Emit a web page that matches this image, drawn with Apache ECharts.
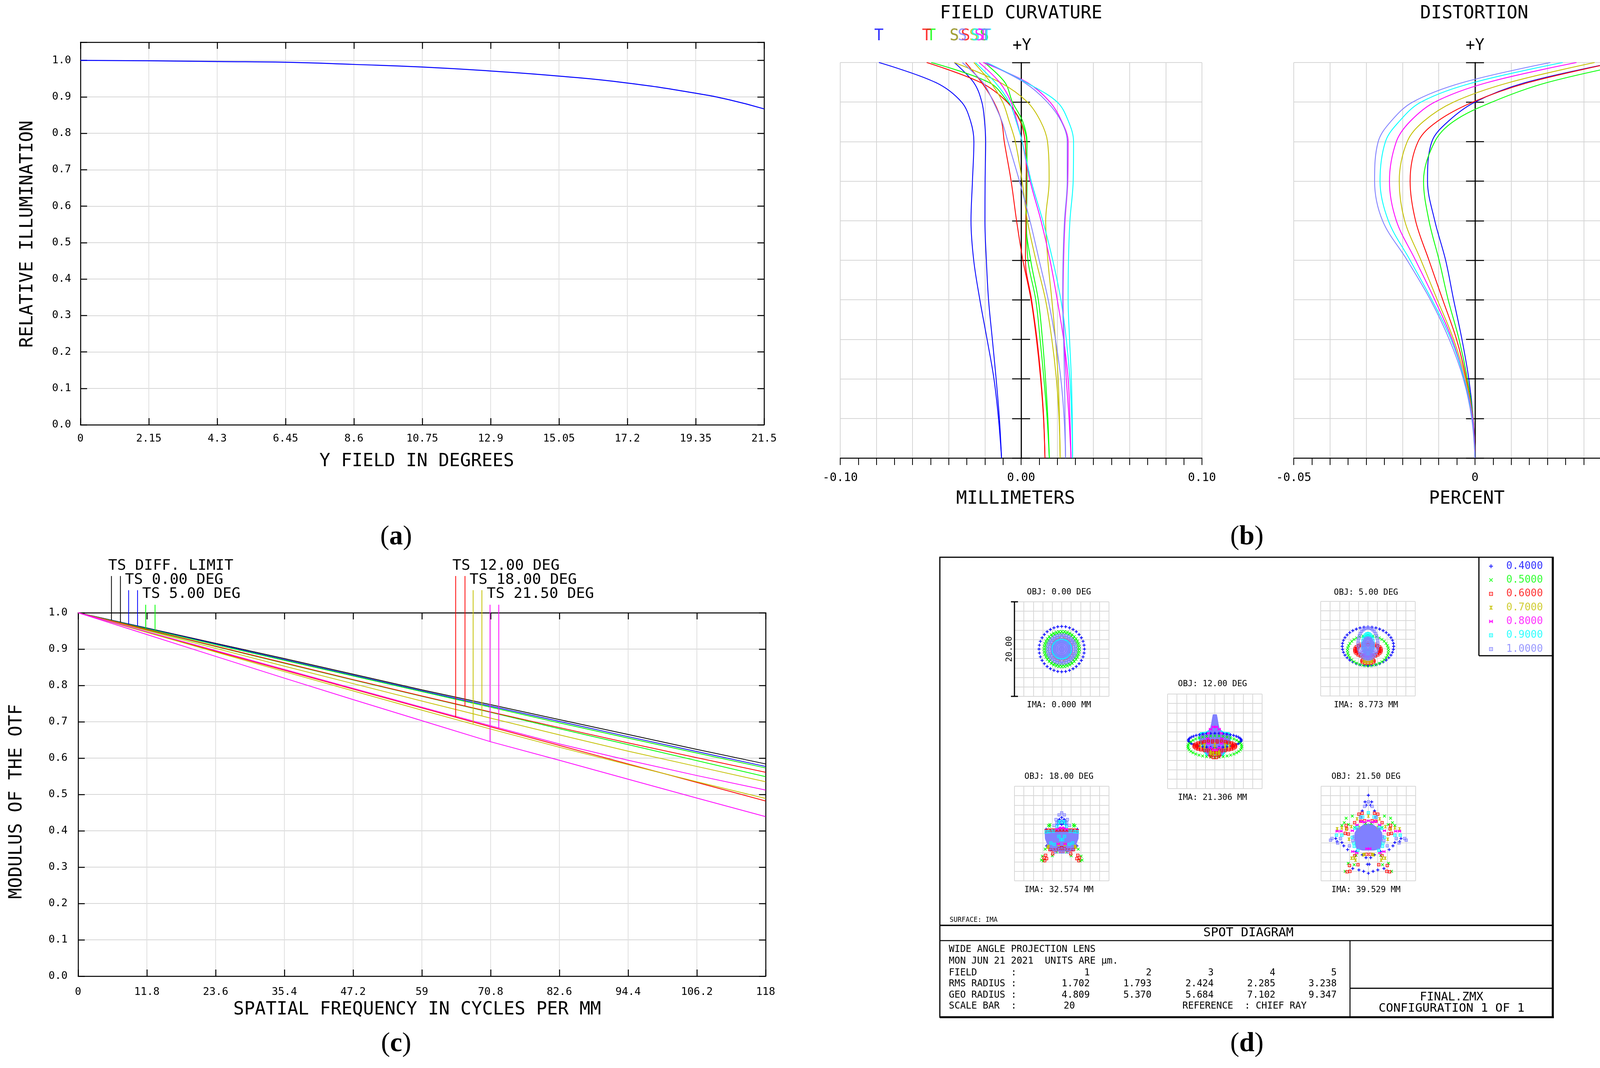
<!DOCTYPE html>
<html>
<head>
<meta charset="utf-8">
<title>Wide angle projection lens - analysis plots</title>
<script src="https://cdn.jsdelivr.net/npm/echarts@6.0.0/dist/echarts.min.js"></script>
<style>
  html, body { margin: 0; padding: 0; background: #fff; }
  #chart { width: 4288px; height: 2733px; }
</style>
</head>
<body>
<div id="chart"></div>
<script>
var FONT = "'DejaVu Sans Mono', monospace";
var SERIF = "'Liberation Serif', 'DejaVu Serif', serif";
var GRID_V = '#e0e0e0';
var GRID_H = '#d6d6d6';

// wavelengths (um) and their colours, used by (b) and (d)
var wlNames = ['0.4000', '0.5000', '0.6000', '0.7000', '0.8000', '0.9000', '1.0000'];
var wlColor = ['#0000ff', '#00ff00', '#ff0000', '#c4c000', '#ff00ff', '#00ffff', '#8080ff'];

//---------------- (a) relative illumination ----------------
var riField = [0, 2.15, 4.3, 6.45, 8.6, 10.75, 12.9, 15.05, 17.2, 19.35, 20.4, 21.5];
var riValue = [1.000, 0.999, 0.997, 0.995, 0.989, 0.982, 0.971, 0.957, 0.938, 0.910, 0.892, 0.867];
var riXTicks = ['0', '2.15', '4.3', '6.45', '8.6', '10.75', '12.9', '15.05', '17.2', '19.35', '21.5'];
var riYTicks = ['0.0', '0.1', '0.2', '0.3', '0.4', '0.5', '0.6', '0.7', '0.8', '0.9', '1.0'];

//---------------- (b) field curvature, mm ----------------
var fcField  = [0, 2.15, 4.3, 6.45, 8.6, 10.75, 12.9, 15.05, 17.2, 18.3, 19.35, 20.4, 21.5];
var fcBlueT  = [-0.0108, -0.0125, -0.0150, -0.0188, -0.0228, -0.0262, -0.0277, -0.0269, -0.0261, -0.0279, -0.0329, -0.0469, -0.0786];
var fcBlueS  = [-0.0108, -0.0120, -0.0138, -0.0159, -0.0180, -0.0192, -0.0200, -0.0199, -0.0196, -0.0202, -0.0217, -0.0261, -0.0369];
var fcGreenT = [0.0156, 0.0144, 0.0126, 0.0105, 0.0081, 0.0038, 0.0030, 0.0033, 0.0031, -0.0001, -0.0073, -0.0174, -0.0497];
var fcGreenS = [0.0156, 0.0148, 0.0135, 0.0118, 0.0095, 0.0053, 0.0026, 0.0027, 0.0033, 0.0009, -0.0048, -0.0088, -0.0203];
var fcRedT   = [0.0132, 0.0125, 0.0110, 0.0088, 0.0058, 0.0024, 0.0027, 0.0029, 0.0022, -0.0005, -0.0077, -0.0221, -0.0522];
var fcRedS   = [0.0132, 0.0124, 0.0108, 0.0085, 0.0055, 0.0010, -0.0025, -0.0055, -0.0093, -0.0108, -0.0150, -0.0217, -0.0307];
var fcYelA   = [0.0216, 0.0212, 0.0205, 0.0190, 0.0170, 0.0148, 0.0136, 0.0155, 0.0146, 0.0108, 0.0035, -0.0113, -0.0369];
var fcYelB   = [0.0216, 0.0210, 0.0195, 0.0170, 0.0135, 0.0082, 0.0035, 0.0006, -0.0032, -0.0066, -0.0102, -0.0167, -0.0261];
var fcMagA   = [0.0276, 0.0270, 0.0260, 0.0235, 0.0200, 0.0160, 0.0110, 0.0050, 0.0006, -0.0023, -0.0055, -0.0117, -0.0232];
var fcMagB   = [0.0276, 0.0265, 0.0250, 0.0238, 0.0232, 0.0235, 0.0243, 0.0258, 0.0260, 0.0225, 0.0160, 0.0036, -0.0210];
var fcCyanA  = [0.0285, 0.0280, 0.0270, 0.0250, 0.0220, 0.0175, 0.0120, 0.0056, 0.0006, -0.0027, -0.0066, -0.0142, -0.0253];
var fcCyanB  = [0.0285, 0.0283, 0.0278, 0.0268, 0.0260, 0.0262, 0.0270, 0.0288, 0.0290, 0.0262, 0.0200, 0.0030, -0.0190];
var fcLbA    = [0.0246, 0.0238, 0.0220, 0.0190, 0.0150, 0.0100, 0.0049, -0.0009, -0.0073, -0.0106, -0.0153, -0.0210, -0.0325];
var fcLbB    = [0.0246, 0.0243, 0.0240, 0.0235, 0.0230, 0.0232, 0.0240, 0.0255, 0.0255, 0.0222, 0.0145, 0.0020, -0.0196];
var fcXTickVals = [-0.1, 0, 0.1];
var fcXTickText = ['-0.10', '0.00', '0.10'];

//---------------- (b) distortion, percent ----------------
var dtBlue    = [0, -0.0005, -0.0017, -0.0036, -0.0059, -0.0081, -0.0111, -0.0131, -0.0119, -0.0074, 0.0000, 0.0137, 0.0386];
var dtGreen   = [0, -0.0005, -0.0021, -0.0044, -0.0074, -0.0099, -0.0127, -0.0142, -0.0111, -0.0059, 0.0047, 0.0197, 0.0443];
var dtRed     = [0, -0.0006, -0.0024, -0.0051, -0.0089, -0.0127, -0.0164, -0.0179, -0.0157, -0.0104, -0.0006, 0.0145, 0.0386];
var dtYellow  = [0, -0.0006, -0.0026, -0.0059, -0.0104, -0.0149, -0.0194, -0.0209, -0.0187, -0.0142, -0.0059, 0.0092, 0.0330];
var dtMagenta = [0, -0.0006, -0.0029, -0.0063, -0.0111, -0.0164, -0.0217, -0.0236, -0.0217, -0.0179, -0.0111, 0.0032, 0.0280];
var dtCyan    = [0, -0.0008, -0.0030, -0.0066, -0.0119, -0.0179, -0.0239, -0.0262, -0.0247, -0.0209, -0.0149, -0.0006, 0.0242];
var dtLb      = [0, -0.0009, -0.0032, -0.0071, -0.0123, -0.0187, -0.0255, -0.0277, -0.0267, -0.0232, -0.0172, -0.0036, 0.0208];
var dtXTickVals = [-0.05, 0, 0.05];
var dtXTickText = ['-0.05', '0', '0.05'];

//---------------- (c) MTF ----------------
var mtfFreq   = [0, 11.8, 23.6, 35.4, 47.2, 59, 70.8, 82.6, 94.4, 106.2, 118];
var mtfDiff   = [1, 0.958, 0.916, 0.874, 0.831, 0.788, 0.747, 0.706, 0.665, 0.624, 0.584];
var mtf0      = [1, 0.957, 0.914, 0.871, 0.828, 0.785, 0.743, 0.701, 0.659, 0.618, 0.577];
var mtf5T     = [1, 0.956, 0.912, 0.869, 0.826, 0.783, 0.740, 0.697, 0.655, 0.614, 0.573];
var mtf5S     = [1, 0.953, 0.907, 0.861, 0.815, 0.770, 0.726, 0.681, 0.637, 0.593, 0.549];
var mtf12T    = [1, 0.954, 0.908, 0.862, 0.816, 0.771, 0.727, 0.684, 0.642, 0.601, 0.561];
var mtf12S    = [1, 0.947, 0.894, 0.842, 0.790, 0.738, 0.686, 0.635, 0.584, 0.533, 0.482];
var mtf18T    = [1, 0.951, 0.902, 0.853, 0.805, 0.757, 0.710, 0.664, 0.619, 0.577, 0.535];
var mtf18S    = [1, 0.946, 0.892, 0.838, 0.785, 0.732, 0.680, 0.630, 0.582, 0.535, 0.489];
var mtf215T   = [1, 0.948, 0.896, 0.844, 0.792, 0.740, 0.689, 0.639, 0.594, 0.552, 0.512];
var mtf215S   = [1, 0.940, 0.880, 0.820, 0.761, 0.703, 0.645, 0.594, 0.542, 0.490, 0.439];
var mtfXTicks = ['0', '11.8', '23.6', '35.4', '47.2', '59', '70.8', '82.6', '94.4', '106.2', '118'];
var mtfYTicks = ['0.0', '0.1', '0.2', '0.3', '0.4', '0.5', '0.6', '0.7', '0.8', '0.9', '1.0'];
// key lines hanging from the field labels down to their curves
var mtfMarkFreq = [5.72, 7.26, 8.67, 10.2, 11.6, 13.2, 64.8, 66.4, 67.8, 69.3, 70.7, 72.2];
var mtfMarkTop  = [1.101, 1.101, 1.062, 1.062, 1.022, 1.022, 1.101, 1.101, 1.062, 1.062, 1.022, 1.022];
var mtfMarkEnd  = [0.980, 0.974, 0.968, 0.963, 0.957, 0.951, 0.712, 0.743, 0.693, 0.716, 0.645, 0.683];
var mtfMarkColor = ['#000000', '#000000', '#0000ff', '#0000ff', '#00ff00', '#00ff00',
                    '#ff0000', '#ff0000', '#c4c000', '#c4c000', '#ff00ff', '#ff00ff'];

//---------------- (d) spot diagram, um ----------------
var spotObj = ['0.00', '5.00', '12.00', '18.00', '21.50'];
var spotIma = ['0.000', '8.773', '21.306', '32.574', '39.529'];
var spotFieldNo = ['1', '2', '3', '4', '5'];
var spotRms = ['1.702', '1.793', '2.424', '2.285', '3.238'];
var spotGeo = ['4.809', '5.370', '5.684', '7.102', '9.347'];

// ray rings per field and wavelength: [centre y, radius x, radius y, rays]
var spotRings = [
  [ [[0, 4.8, 4.8, 36]],
    [[0, 3.75, 3.75, 40], [0, 3.35, 3.35, 34]],
    [[0, 2.05, 2.05, 26]],
    [[0, 2.3, 2.3, 18]],
    [[0, 2.0, 2.0, 26]],
    [[0, 1.85, 1.85, 40]],
    [[0, 3.0, 3.0, 36], [0, 2.6, 2.6, 32], [0, 1.55, 1.55, 30], [0, 1.15, 1.15, 22], [0, 0.75, 0.75, 14], [0, 0.35, 0.35, 6], [0, 0, 0, 1]] ],
  [ [[0.5, 5.45, 4.1, 40]],
    [[-0.4, 4.35, 3.2, 38]],
    [[-0.3, 2.8, 1.5, 26], [-0.3, 2.4, 1.2, 20], [-2.6, 1.3, 0.5, 12]],
    [[-2.5, 0.9, 0.4, 10]],
    [[0.3, 1.0, 2.0, 16]],
    [[1.05, 1.1, 2.15, 24], [1.05, 0.7, 1.6, 16]],
    [[1.1, 2.1, 3.3, 36], [0.2, 1.15, 2.05, 24], [0.2, 0.8, 1.5, 18], [0.2, 0.4, 0.8, 10], [0.2, 0, 0, 1]] ],
  [ [[0.2, 5.6, 1.5, 40]],
    [[-1.1, 5.7, 2.25, 40]],
    [[-1.0, 4.4, 1.1, 30], [-1.0, 3.9, 0.85, 26], [-2.9, 1.0, 0.55, 10]],
    [[-2.45, 1.0, 0.3, 10], [-1.0, 3.1, 0.35, 8]],
    [[0.6, 1.5, 2.5, 14]],
    [],
    [] ],
  [[], [], [], [], [], [], []],
  [[], [], [], [], [], [], []]
];

// single rays, right half only (the spots are symmetric about x = 0)
var spotHalfPts = [
  [[], [], [], [], [], [], []],
  [[], [], [], [], [], [], []],
  [[], [], [], [], [], [], []],
  [ [[0, 3.4], [0.5, 3.0], [0.85, 2.6], [0.35, 2.2], [0.85, 1.9], [0, 2.6], [0, 1.9], [3.3, 0.9], [3.2, -2.6]],
    [[2.5, 1.9], [2.8, 1.7], [2.55, 1.55], [3.5, -3.3], [1.05, -3.9], [2.0, -4.7], [4.1, -4.8], [4.3, -5.6], [3.9, -5.8]],
    [[0, 0.75], [0.7, 0.75], [1.4, 0.75], [2.1, 0.75], [2.8, 0.72], [3.3, 0.6], [0, -3.0], [0.6, -3.2], [1.2, -3.5], [1.8, -3.5],
     [2.5, -3.4], [0.3, -3.7], [1.9, -4.3], [3.4, -4.6], [3.75, -5.1], [3.2, -5.3], [3.6, -5.75]],
    [[0.65, -2.3], [2.75, -2.7], [3.0, -2.9]],
    [[0, 1.2], [0.65, 1.2], [1.0, 0.95], [0.7, -2.2]],
    [[0.3, 2.5], [0.75, 2.5], [0.75, 2.1], [1.0, 1.5], [1.8, 0.5], [2.7, 0.4], [3.3, 0.35], [0.6, -0.6], [0.2, -1.3], [1.6, -2.3], [2.3, -2.0]],
    [[0, 4.35], [0.55, 3.95], [1.2, 2.95], [1.05, 2.3], [1.6, 1.7], [0.4, -3.3], [1.0, -3.3], [1.6, -3.3], [2.2, -3.2], [0.3, -3.9], [1.3, -3.9]] ],
  [ [[0, 8.1], [0.7, 6.7], [0.45, 6.0], [1.3, 4.8], [6.9, -1.05], [6.6, -1.7], [5.6, -1.9], [5.2, -2.6], [4.4, -3.4], [2.6, -3.8],
     [1.3, -4.5], [0.5, -5.1], [0.2, -6.5], [2.0, -7.7], [3.3, -7.4], [1.0, -8.0], [0, -8.4]],
    [[3.4, 3.7], [4.7, 3.25], [5.1, 2.3], [5.6, 1.7], [4.2, 1.9], [2.9, 1.3], [0.6, 2.1], [3.0, -6.6], [4.25, -6.3], [4.9, -8.0], [2.6, -4.6]],
    [[1.3, 4.3], [2.0, 4.1], [0.8, 2.7], [1.6, 2.6], [2.9, 2.3], [4.7, 1.7], [4.6, 1.0], [4.9, 0.05], [4.25, -0.1], [2.9, -4.7],
     [0.4, -4.4], [2.2, -6.6], [4.0, -6.75], [3.9, -8.0], [4.5, -8.1]],
    [[0, 3.7], [2.4, 3.1], [2.0, 1.3], [3.6, 1.45], [4.7, 0.9], [5.6, 1.2], [6.6, 1.0], [4.1, -1.2], [0.8, -4.4], [1.1, -4.5],
     [2.7, -5.6], [3.0, -5.2], [3.55, -5.2]],
    [[0, 2.7], [0.8, 2.4], [1.5, 2.55], [2.4, 1.8], [3.4, 0.6], [5.8, 0.5], [6.6, 0.5], [2.45, -4.1], [3.3, -3.8], [0.3, -3.2]],
    [[0, 4.4], [1.2, 3.5], [1.6, 3.5], [2.3, 1.3], [2.8, 1.1], [3.1, -2.0], [5.6, -0.36], [6.75, -0.36], [3.0, -2.7], [2.2, -3.55], [3.4, -0.8]],
    [[0, 6.7], [0.8, 5.75], [1.6, 3.4], [2.2, 0.9], [3.0, -0.64], [3.3, -1.5], [4.0, -2.6], [5.9, -1.05], [6.5, -2.0], [7.7, -1.05], [8.0, -1.4]] ]
];

// dense cores drawn as filled outlines: [field, wavelength, drawn before wavelength, right-half outline top to bottom]
var spotBlobs = [
  [2, 5, 3, [[0, 3.7], [0.5, 3.6], [1.3, 2.4], [1.9, 2.0], [3.1, 1.9], [3.45, 1.2], [3.4, 0.2], [2.9, -0.7], [2.5, -2.0], [1.8, -3.1], [0, -3.2]]],
  [2, 6, 3, [[0, 5.7], [0.42, 5.7], [0.55, 5.1], [0.78, 3.75], [1.1, 2.36], [1.67, 1.8], [2.8, 1.67], [3.3, 1.1], [3.3, 0.4], [2.8, -0.15],
             [2.2, -1.0], [2.1, -2.1], [1.4, -3.2], [0, -3.3]]],
  [3, 6, 0, [[0, 0.95], [2.5, 0.9], [3.4, 0.6], [3.6, 0], [3.55, -1.1], [3.2, -2.0], [2.9, -2.8], [2.5, -3.8], [0, -3.8]]],
  [4, 6, 0, [[0, 2.1], [0.9, 2.0], [1.6, 1.5], [2.4, 1.0], [2.9, 0.2], [3.0, -1.0], [2.8, -2.4], [2.5, -3.3], [1.2, -3.6], [0, -3.6]]]
];

// Zemax-like ray markers per wavelength
var wlMarker = [
  'M3.8,0h2.4v10h-2.4zM0,3.8h10v2.4h-10z',
  'M0,1.5L1.5,0L5,3.5L8.5,0L10,1.5L6.5,5L10,8.5L8.5,10L5,6.5L1.5,10L0,8.5L3.5,5Z',
  'M0,0h10v10h-10zM2,2v6h6v-6zM4,4h2v2h-2z',
  'M0,0h10L6,5L10,10h-10L4,5Z',
  'M0,0L5,3.5L10,0v10L5,6.5L0,10Z',
  'M0,0h10v10h-10zM2,2v6h6v-6zM3.5,3h1.2v4h-1.2zM5.3,3h1.2v4h-1.2z',
  'M0,0h10v10h-10zM2,2v6h6v-6zM3,3.4h4v1.2h-4zM3,5.4h4v1.2h-4z'
];

//---------------- helpers ----------------
function tickText(vals, texts) {
  return function (v) {
    for (var i = 0; i < vals.length; i++) {
      if (Math.abs(v - vals[i]) < 1e-6) return texts[i];
    }
    return '';
  };
}
function zip(xs, ys) {
  return xs.map(function (x, i) { return [x, ys[i]]; });
}
function ringPoints(r) {
  var pts = [];
  for (var j = 0; j < r[3]; j++) {
    var a = 2 * Math.PI * j / r[3];
    pts.push([r[1] * Math.cos(a), r[0] + r[2] * Math.sin(a)]);
  }
  return pts;
}
function mirrorPoints(half) {
  var out = [];
  half.forEach(function (p) {
    out.push(p);
    if (p[0] > 0) out.push([-p[0], p[1]]);
  });
  return out;
}
function mirrorOutline(half) {
  var back = half.slice(1, half.length - 1).reverse().map(function (p) { return [-p[0], p[1]]; });
  return half.concat(back);
}
function txt(x, y, s, size, o) {
  o = o || {};
  return {
    type: 'text', x: x, y: y, rotation: o.rot || 0, z: 20, silent: true,
    style: {
      text: s, fontFamily: o.font || FONT, fontSize: size, fill: o.color || '#000',
      align: o.align || 'center', verticalAlign: 'middle', fontWeight: o.weight || 'normal', rich: o.rich
    }
  };
}
function hline(x1, x2, y, w) {
  return { type: 'line', z: 20, silent: true, shape: { x1: x1, y1: y, x2: x2, y2: y }, style: { stroke: '#000', lineWidth: w } };
}
function vline(x, y1, y2, w) {
  return { type: 'line', z: 20, silent: true, shape: { x1: x, y1: y1, x2: x, y2: y2 }, style: { stroke: '#000', lineWidth: w } };
}
function panelLabel(x, y, letter) {
  return txt(x, y, '{p|(}{b|' + letter + '}{p|)}', 70, {
    font: SERIF,
    rich: { p: { fontFamily: SERIF, fontSize: 70 }, b: { fontFamily: SERIF, fontSize: 70, fontWeight: 'bold' } }
  });
}

var blk = { color: '#000', width: 2.5 };
var lbl = { fontFamily: FONT, color: '#000', showMinLabel: true, showMaxLabel: true };

//---------------- grids ----------------
var spotBox = [[2597, 1540], [3381, 1539], [2989, 1776], [2597, 2012], [3382, 2012]];
var grids = [
  { left: 206, top: 108, width: 1750, height: 979 },   // (a)
  { left: 2151, top: 160, width: 926, height: 1012 },  // field curvature
  { left: 3312, top: 160, width: 928, height: 1012 },  // distortion
  { left: 200, top: 1568, width: 1760, height: 930 }   // (c)
];
spotBox.forEach(function (b) { grids.push({ left: b[0], top: b[1], width: 242, height: 242 }); });
grids.push({ left: 3800, top: 1449, width: 34, height: 212 });   // wavelength key markers
grids.forEach(function (g) { g.outerBoundsMode = 'none'; });

//---------------- axes ----------------
var riXVals = riXTicks.map(Number);
var riYVals = riYTicks.map(Number);
var mtfXVals = mtfXTicks.map(Number);
var mtfYVals = mtfYTicks.map(Number);

var xAxes = [
  { gridIndex: 0, type: 'value', min: 0, max: 21.5, interval: 2.15, position: 'bottom',
    axisLine: { onZero: false, lineStyle: blk }, axisTick: { inside: true, length: 17, lineStyle: blk },
    axisLabel: Object.assign({ formatter: tickText(riXVals, riXTicks), fontSize: 27, margin: 22 }, lbl),
    splitLine: { show: true, lineStyle: { color: GRID_V, width: 2 } } },
  { gridIndex: 0, type: 'value', min: 0, max: 21.5, interval: 2.15, position: 'top',
    axisLine: { onZero: false, lineStyle: blk }, axisTick: { inside: true, length: 17, lineStyle: blk },
    axisLabel: { show: false }, splitLine: { show: false } },
  { gridIndex: 1, type: 'value', min: -0.1, max: 0.1, interval: 0.02, position: 'bottom',
    axisLine: { onZero: false, lineStyle: blk }, axisTick: { length: 18, lineStyle: { color: '#000', width: 2 } },
    minorTick: { show: true, splitNumber: 2, length: 18, lineStyle: { color: '#000', width: 2 } },
    axisLabel: Object.assign({ formatter: tickText(fcXTickVals, fcXTickText), fontSize: 30, margin: 36 }, lbl),
    splitLine: { show: true, lineStyle: { color: GRID_H, width: 2 } } },
  { gridIndex: 2, type: 'value', min: -0.05, max: 0.05, interval: 0.01, position: 'bottom',
    axisLine: { onZero: false, lineStyle: blk }, axisTick: { length: 18, lineStyle: { color: '#000', width: 2 } },
    minorTick: { show: true, splitNumber: 2, length: 18, lineStyle: { color: '#000', width: 2 } },
    axisLabel: Object.assign({ formatter: tickText(dtXTickVals, dtXTickText), fontSize: 30, margin: 36 }, lbl),
    splitLine: { show: true, lineStyle: { color: GRID_H, width: 2 } } },
  { gridIndex: 3, type: 'value', min: 0, max: 118, interval: 11.8, position: 'bottom',
    axisLine: { onZero: false, lineStyle: blk }, axisTick: { inside: true, length: 17, lineStyle: blk },
    axisLabel: Object.assign({ formatter: tickText(mtfXVals, mtfXTicks), fontSize: 27, margin: 27 }, lbl),
    splitLine: { show: true, lineStyle: { color: GRID_V, width: 2 } } },
  { gridIndex: 3, type: 'value', min: 0, max: 118, interval: 11.8, position: 'top',
    axisLine: { onZero: false, lineStyle: blk }, axisTick: { inside: true, length: 17, lineStyle: blk },
    axisLabel: { show: false }, splitLine: { show: false } }
];
var yAxes = [
  { gridIndex: 0, type: 'value', min: 0, max: 1.05, interval: 0.1, position: 'left',
    axisLine: { onZero: false, lineStyle: blk }, axisTick: { inside: true, length: 17, lineStyle: blk },
    axisLabel: Object.assign({ formatter: tickText(riYVals, riYTicks), fontSize: 27, margin: 24 }, lbl),
    splitLine: { show: true, lineStyle: { color: GRID_H, width: 2 } } },
  { gridIndex: 0, type: 'value', min: 0, max: 1.05, interval: 0.1, position: 'right',
    axisLine: { onZero: false, lineStyle: blk }, axisTick: { inside: true, length: 17, lineStyle: blk },
    axisLabel: { show: false }, splitLine: { show: false } }
];
// centre "+Y" axes of field curvature and distortion, ticks crossing the line
[[1, 2], [2, 3]].forEach(function (gx) {
  [false, true].forEach(function (inside) {
    yAxes.push({ gridIndex: gx[0], type: 'value', min: 0, max: 21.5, interval: 2.15, position: 'left',
      axisLine: { onZero: true, onZeroAxisIndex: gx[1], lineStyle: blk },
      axisTick: { inside: inside, length: 23, lineStyle: blk }, axisLabel: { show: false },
      splitLine: { show: !inside, lineStyle: { color: GRID_H, width: 2 } } });
  });
});
yAxes.push(
  { gridIndex: 3, type: 'value', min: 0, max: 1, interval: 0.1, position: 'left',
    axisLine: { onZero: false, lineStyle: blk }, axisTick: { inside: true, length: 17, lineStyle: blk },
    axisLabel: Object.assign({ formatter: tickText(mtfYVals, mtfYTicks), fontSize: 27, margin: 27 }, lbl),
    splitLine: { show: true, lineStyle: { color: GRID_H, width: 2 } } },
  { gridIndex: 3, type: 'value', min: 0, max: 1, interval: 0.1, position: 'right',
    axisLine: { onZero: false, lineStyle: blk }, axisTick: { inside: true, length: 17, lineStyle: blk },
    axisLabel: { show: false }, splitLine: { show: false } }
);
spotBox.forEach(function (b, k) {
  var ax = { gridIndex: 4 + k, type: 'value', min: -10, max: 10, interval: 2,
    axisLine: { show: false }, axisTick: { show: false }, axisLabel: { show: false },
    splitLine: { show: true, lineStyle: { color: '#d8d8d8', width: 2 } } };
  xAxes.push(Object.assign({}, ax));
  yAxes.push(Object.assign({}, ax));
});
// hidden axes of the wavelength key
xAxes.push({ gridIndex: 9, type: 'value', min: -1, max: 1, show: false });
yAxes.push({ gridIndex: 9, type: 'value', min: 0, max: 6, inverse: true, show: false });

//---------------- series ----------------
var series = [];

// (a)
series.push({ type: 'line', xAxisIndex: 0, yAxisIndex: 0, data: zip(riField, riValue), smooth: true,
  showSymbol: false, lineStyle: { color: '#0000ff', width: 2.5 } });

// (b) field curvature
var fcCurves = [
  [fcBlueT, 0, 'T'], [fcBlueS, 0, 'S'], [fcGreenT, 1, 'T'], [fcGreenS, 1, 'S'],
  [fcRedT, 2, 'T'], [fcRedS, 2, 'S'], [fcYelA, 3, 'S'], [fcYelB, 3, 'S'],
  [fcMagA, 4, 'S'], [fcMagB, 4, 'T'], [fcCyanA, 5, 'S'], [fcCyanB, 5, 'T'],
  [fcLbA, 6, 'S'], [fcLbB, 6, 'T']
];
fcCurves.forEach(function (c) {
  series.push({ type: 'line', xAxisIndex: 2, yAxisIndex: 2, data: zip(c[0], fcField), smooth: 0.35,
    showSymbol: false, lineStyle: { color: wlColor[c[1]], width: 2.2 } });
});
series.push({ type: 'scatter', xAxisIndex: 2, yAxisIndex: 2, symbolSize: 1, silent: true,
  itemStyle: { color: 'rgba(0,0,0,0)' },
  label: { show: true, position: 'top', distance: 47, fontFamily: FONT, fontSize: 40 },
  data: fcCurves.map(function (c) {
    return { value: [c[0][c[0].length - 1], fcField[fcField.length - 1]],
      label: { formatter: c[2], color: wlColor[c[1]] } };
  }) });

// (b) distortion
[dtBlue, dtGreen, dtRed, dtYellow, dtMagenta, dtCyan, dtLb].forEach(function (d, i) {
  series.push({ type: 'line', xAxisIndex: 3, yAxisIndex: 4, data: zip(d, fcField), smooth: 0.35,
    showSymbol: false, lineStyle: { color: wlColor[i], width: 2.2 } });
});

// (c) MTF
[[mtfDiff, '#000000'], [mtf0, '#0000ff'], [mtf5T, '#00ff00'], [mtf5S, '#00ff00'],
 [mtf12T, '#ff0000'], [mtf12S, '#ff0000'], [mtf18T, '#c4c000'], [mtf18S, '#c4c000'],
 [mtf215T, '#ff00ff'], [mtf215S, '#ff00ff']].forEach(function (m) {
  series.push({ type: 'line', xAxisIndex: 4, yAxisIndex: 6, data: zip(mtfFreq, m[0]),
    showSymbol: false, lineStyle: { color: m[1], width: 2 } });
});
mtfMarkFreq.forEach(function (f, i) {
  series.push({ type: 'line', xAxisIndex: 4, yAxisIndex: 6, clip: false, showSymbol: false, silent: true,
    data: [[f, mtfMarkTop[i]], [f, mtfMarkEnd[i]]], lineStyle: { color: mtfMarkColor[i], width: 2 } });
});

// (d) spots
function blobSeries(k, w, half) {
  var outline = mirrorOutline(half);
  return { type: 'custom', xAxisIndex: 6 + k, yAxisIndex: 8 + k, silent: true, data: outline,
    renderItem: function (params, api) {
      if (params.dataIndex !== 0) return null;
      return { type: 'polygon', shape: { points: outline.map(function (p) { return api.coord(p); }) },
        style: { fill: wlColor[w] } };
    } };
}
for (var k = 0; k < 5; k++) {
  for (var w = 0; w < 7; w++) {
    spotBlobs.forEach(function (b) {
      if (b[0] === k && b[2] === w) series.push(blobSeries(k, b[1], b[3]));
    });
    var pts = [];
    spotRings[k][w].forEach(function (r) { pts = pts.concat(ringPoints(r)); });
    pts = pts.concat(mirrorPoints(spotHalfPts[k][w]));
    if (pts.length) {
      series.push({ type: 'scatter', name: wlNames[w], xAxisIndex: 6 + k, yAxisIndex: 8 + k, silent: true,
        symbol: 'path://' + wlMarker[w], symbolSize: 8, itemStyle: { color: wlColor[w], opacity: 1 }, data: pts });
    }
  }
}
// wavelength key: marker plus coloured value
wlNames.forEach(function (n, i) {
  series.push({ type: 'scatter', xAxisIndex: 11, yAxisIndex: 13, silent: true,
    symbol: 'path://' + wlMarker[i], symbolSize: 10, itemStyle: { color: wlColor[i] },
    label: { show: true, position: 'right', distance: 34, formatter: n, color: wlColor[i], fontFamily: FONT, fontSize: 26 },
    data: [[0, i]] });
});

//---------------- text and frames ----------------
var g = [];
// (a)
g.push(txt(71, 599, 'RELATIVE ILLUMINATION', 46, { rot: Math.PI / 2 }));
g.push(txt(1067, 1181, 'Y FIELD IN DEGREES', 46));
g.push(panelLabel(1014, 1375, 'a'));
// (b)
g.push(txt(2614, 35, 'FIELD CURVATURE', 46));
g.push(txt(3774, 35, 'DISTORTION', 46));
g.push(txt(2616, 118, '+Y', 40));
g.push(txt(3776, 118, '+Y', 40));
g.push(txt(2600, 1277, 'MILLIMETERS', 46));
g.push(txt(3755, 1277, 'PERCENT', 46));
g.push(panelLabel(3192, 1375, 'b'));
// (c)
g.push(txt(43, 2051, 'MODULUS OF THE OTF', 46, { rot: Math.PI / 2 }));
g.push(txt(1068, 2584, 'SPATIAL FREQUENCY IN CYCLES PER MM', 46));
[['TS DIFF. LIMIT', 277, 1448], ['TS 0.00 DEG', 320, 1484], ['TS 5.00 DEG', 364, 1520],
 ['TS 12.00 DEG', 1158, 1448], ['TS 18.00 DEG', 1202, 1484], ['TS 21.50 DEG', 1246, 1520]].forEach(function (t) {
  g.push(txt(t[1], t[2], t[0], 38, { align: 'left' }));
});
g.push(panelLabel(1014, 2672, 'c'));
// (d) frame
g.push({ type: 'rect', z: 20, silent: true, shape: { x: 2406, y: 1426, width: 1570, height: 1177 },
  style: { fill: 'none', stroke: '#000', lineWidth: 3 } });
g.push(vline(3975, 1426, 2603, 5));
g.push(hline(2406, 3978, 2603, 5));
g.push(hline(2406, 3976, 2368, 3.5));
g.push(hline(2406, 3976, 2407, 2.5));
g.push(vline(3456, 2407, 2603, 2.5));
g.push(hline(3456, 3976, 2529, 3));
g.push(vline(3786, 1426, 1678, 3));
g.push(hline(3786, 3976, 1678, 3));
// spot titles
var spotTxtX = [2711, 3497, 3104, 2711, 3497];
var spotTxtY = [[1516, 1805], [1517, 1805], [1751, 2042], [1988, 2278], [1988, 2278]];
spotObj.forEach(function (s, i) {
  g.push(txt(spotTxtX[i], spotTxtY[i][0], 'OBJ: ' + s + ' DEG', 21));
  g.push(txt(spotTxtX[i], spotTxtY[i][1], 'IMA: ' + spotIma[i] + ' MM', 21));
});
// scale bar
g.push(vline(2597, 1540, 1782, 3));
g.push(hline(2588, 2606, 1540, 3));
g.push(hline(2588, 2606, 1782, 3));
g.push(txt(2584, 1661, '20.00', 22, { rot: Math.PI / 2 }));
// title block
g.push(txt(2431, 2355, 'SURFACE: IMA', 17, { align: 'left' }));
g.push(txt(3196, 2388, 'SPOT DIAGRAM', 32));
var tx = 2429;
var colRight = [2790, 2948, 3107, 3265, 3422];
g.push(txt(tx, 2430, 'WIDE ANGLE PROJECTION LENS', 24, { align: 'left' }));
g.push(txt(tx, 2460, 'MON JUN 21 2021  UNITS ARE \u00b5m.', 24, { align: 'left' }));
[['FIELD      :', spotFieldNo, 2490], ['RMS RADIUS :', spotRms, 2518], ['GEO RADIUS :', spotGeo, 2547]].forEach(function (row) {
  g.push(txt(tx, row[2], row[0], 24, { align: 'left' }));
  row[1].forEach(function (v, i) { g.push(txt(colRight[i], row[2], v, 24, { align: 'right' })); });
});
g.push(txt(tx, 2575, 'SCALE BAR  :', 24, { align: 'left' }));
g.push(txt(2752, 2575, '20', 24, { align: 'right' }));
g.push(txt(3027, 2575, 'REFERENCE  : CHIEF RAY', 24, { align: 'left' }));
g.push(txt(3716, 2552, 'FINAL.ZMX', 30));
g.push(txt(3716, 2581, 'CONFIGURATION 1 OF 1', 31));
g.push(panelLabel(3192, 2672, 'd'));

//---------------- render ----------------
var chart = echarts.init(document.getElementById('chart'), null, { renderer: 'canvas' });
chart.setOption({
  animation: false,
  backgroundColor: '#ffffff',
  textStyle: { fontFamily: FONT },
  grid: grids,
  xAxis: xAxes,
  yAxis: yAxes,
  series: series,
  graphic: { elements: g }
});
</script>
</body>
</html>
